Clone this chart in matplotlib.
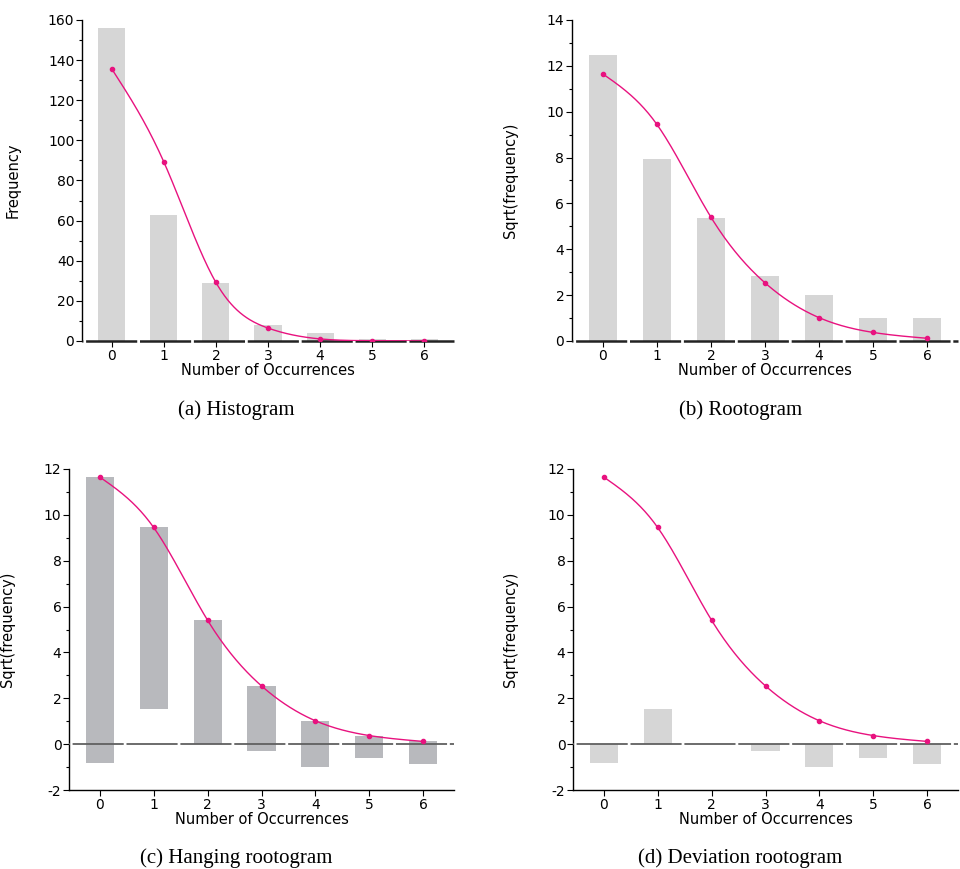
import numpy as np
import matplotlib
matplotlib.use('Agg')
import matplotlib.pyplot as plt

occurrences = [0, 1, 2, 3, 4, 5, 6]
observed = [156, 63, 29, 8, 4, 1, 1]
fitted = [135.7, 89.3, 29.2, 6.45, 1.04, 0.14, 0.014]

BAR_LIGHT = '#d6d6d6'
BAR_DARK = '#b8b9bd'
CURVE = '#e8127f'

plt.rcParams['lines.scale_dashes'] = False
plt.rcParams['axes.unicode_minus'] = False


def natural_spline(x, y, n=300):
    # natural cubic spline through the points, only for drawing a smooth curve
    x = np.asarray(x, float)
    y = np.asarray(y, float)
    k = len(x)
    h = np.diff(x)
    A = np.zeros((k, k))
    r = np.zeros(k)
    A[0, 0] = A[-1, -1] = 1
    for i in range(1, k - 1):
        A[i, i - 1] = h[i - 1]
        A[i, i] = 2 * (h[i - 1] + h[i])
        A[i, i + 1] = h[i]
        r[i] = 6 * ((y[i + 1] - y[i]) / h[i] - (y[i] - y[i - 1]) / h[i - 1])
    m = np.linalg.solve(A, r)
    xs = np.linspace(x[0], x[-1], n)
    idx = np.clip(np.searchsorted(x, xs) - 1, 0, k - 2)
    x0, x1 = x[idx], x[idx + 1]
    hh = x1 - x0
    t0, t1 = x1 - xs, xs - x0
    ys = (m[idx] * t0 ** 3 + m[idx + 1] * t1 ** 3) / (6 * hh) \
        + (y[idx] / hh - m[idx] * hh / 6) * t0 + (y[idx + 1] / hh - m[idx + 1] * hh / 6) * t1
    return xs, ys


def style_axis(ax, ylim, yticks, minor, ylabel, label_x):
    ax.set_xlim(-0.57, 6.57)
    ax.set_ylim(*ylim)
    ax.set_xticks(occurrences)
    ax.set_yticks(yticks)
    ax.set_yticks(minor, minor=True)
    for s in ['top', 'right']:
        ax.spines[s].set_visible(False)
    ax.spines['left'].set_linewidth(1.0)
    ax.spines['bottom'].set_linewidth(1.0)
    ax.tick_params(axis='both', which='major', length=4, width=0.8, labelsize=10, pad=1.5)
    ax.tick_params(axis='y', which='minor', length=2, width=0.8)
    ax.tick_params(axis='x', which='minor', length=0)
    ax.set_xlabel('Number of Occurrences', fontsize=10.5)
    ax.set_ylabel(ylabel, fontsize=10.5)
    ax.xaxis.set_label_coords(0.5, -0.07)
    ax.yaxis.set_label_coords(label_x, 0.5)


def zero_line(ax, color, lw):
    ax.axhline(0, color=color, lw=lw, linestyle=(36.2, (36.8, 2.0)),
               dash_capstyle='butt', zorder=3, clip_on=False)


def fitted_curve(ax, xs, ys):
    sx, sy = natural_spline(xs, ys)
    ax.plot(sx, sy, color=CURVE, lw=1.0, zorder=4)
    ax.plot(xs, ys, 'o', color=CURVE, ms=3, zorder=5)


fig = plt.figure(figsize=(9.6, 8.69), dpi=100)
ax_a = fig.add_axes([0.0854, 0.6076, 0.3875, 0.3694])
ax_b = fig.add_axes([0.5958, 0.6076, 0.4020, 0.3694])
ax_c = fig.add_axes([0.0719, 0.0909, 0.4010, 0.3694])
ax_d = fig.add_axes([0.5969, 0.0909, 0.4010, 0.3694])

sqrt_obs = np.sqrt(observed)
sqrt_fit = np.sqrt(fitted)
width = 0.52

# (a) histogram
ax_a.bar(occurrences, observed, width=width, color=BAR_LIGHT, zorder=2)
fitted_curve(ax_a, occurrences, fitted)
style_axis(ax_a, (0, 160), range(0, 161, 20), range(10, 160, 20), 'Frequency', -0.165)
ax_a.spines['bottom'].set_visible(False)
zero_line(ax_a, '#222222', 1.8)

# (b) rootogram
ax_b.bar(occurrences, sqrt_obs, width=width, color=BAR_LIGHT, zorder=2)
fitted_curve(ax_b, occurrences, sqrt_fit)
style_axis(ax_b, (0, 14), range(0, 15, 2), range(1, 14, 2), 'Sqrt(frequency)', -0.14)
ax_b.spines['bottom'].set_visible(False)
zero_line(ax_b, '#222222', 1.8)

# (c) hanging rootogram
ax_c.bar(occurrences, sqrt_obs, width=width, bottom=sqrt_fit - sqrt_obs,
         color=BAR_DARK, zorder=2)
zero_line(ax_c, '#606060', 1.3)
fitted_curve(ax_c, occurrences, sqrt_fit)
style_axis(ax_c, (-2, 12), range(-2, 13, 2), range(-1, 12, 2), 'Sqrt(frequency)', -0.14)

# (d) deviation rootogram
ax_d.bar(occurrences, sqrt_fit - sqrt_obs, width=width, color=BAR_LIGHT, zorder=2)
zero_line(ax_d, '#606060', 1.3)
fitted_curve(ax_d, occurrences, sqrt_fit)
style_axis(ax_d, (-2, 12), range(-2, 13, 2), range(-1, 12, 2), 'Sqrt(frequency)', -0.143)

captions = ['(a) Histogram', '(b) Rootogram', '(c) Hanging rootogram', '(d) Deviation rootogram']
cap_pos = [(0.246, 0.528), (0.771, 0.528), (0.246, 0.013), (0.771, 0.013)]
for text, (cx, cy) in zip(captions, cap_pos):
    fig.text(cx, cy, text, ha='center', va='center', fontsize=15,
             family='Liberation Serif')

fig.savefig('out.png', dpi=100)
